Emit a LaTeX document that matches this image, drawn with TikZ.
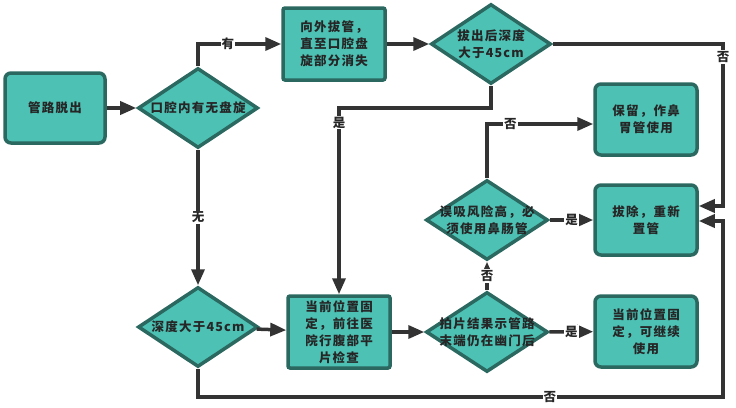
\documentclass[tikz,border=0pt]{standalone}
\usepackage{fontspec}
\setmainfont{Noto Sans CJK SC}[LetterSpace=10]
\usepackage{tikz}
\usetikzlibrary{shapes.geometric,arrows.meta}

\definecolor{tealfill}{HTML}{4CC1B4}
\definecolor{tealline}{HTML}{2A6860}
\definecolor{darkline}{HTML}{333333}

\tikzset{
  box/.style={rectangle, draw=tealline, fill=tealfill, line width=3.5pt, rounded corners=2pt,
    minimum width=102pt, minimum height=72pt, align=center, inner sep=2pt,
    font=\bfseries\fontsize{12.5}{17}\selectfont, text=black!85},
  rbox/.style={box, rounded corners=6pt},
  dec/.style={diamond, draw=tealline, fill=tealfill, line width=3.5pt, aspect=1.5,
    minimum width=120pt, minimum height=80pt, inner sep=0pt},
  dectext/.style={align=center, font=\bfseries\fontsize{12.5}{17}\selectfont, text=black!85},
  arr/.style={draw=darkline, line width=3.5pt, -{Triangle[length=16pt,width=13pt]}},
  lab/.style={fill=white, inner sep=1pt, font=\bfseries\fontsize{12.5}{13}\selectfont, text=black!85}
}

\begin{document}
\begin{tikzpicture}[x=1pt, y=-1pt]
\useasboundingbox (0,0) rectangle (736,407);

\node (out) [rbox, minimum width=100pt, minimum height=70pt] at (55,108) {管路脱出};
\node (d1) [dec, label={[dectext]center:口腔内有无盘旋}] at (198,108) {};
\node (pull) [box] at (334,44) {向外拔管，\\直至口腔盘\\旋部分消失};
\node (d2) [dec, label={[dectext]center:拔出后深度\\大于45cm}] at (491,44) {};
\node (d3) [dec, label={[dectext]center:深度大于45cm}] at (198,327) {};
\node (xray) [box] at (339,332) {当前位置固\\定，前往医\\院行腹部平\\片检查};
\node (d4) [dec, minimum width=122pt, label={[dectext]center:拍片结果示管路\\末端仍在幽门后}] at (487,332) {};
\node (d5) [dec, minimum width=122pt, label={[dectext]center:误吸风险高，必\\须使用鼻肠管}] at (487,220) {};
\node (keep) [rbox, minimum height=71pt] at (646,119.5) {保留，作鼻\\胃管使用};
\node (redo) [rbox, minimum height=70pt] at (646,220) {拔除，重新\\置管};
\node (fix) [rbox, minimum height=71pt] at (646,331.5) {当前位置固\\定，可继续\\使用};

\coordinate (rtop) at (723,206);
\coordinate (rbot) at (723,221);
\coordinate (rbase) at (723,397);

\draw[arr] (out) -- (d1);
\draw[arr] (d1.north) |- node[lab, pos=0.68] {有} (pull.west);
\draw[arr] (pull) -- (d2);
\draw[arr] (d2.east) -| node[lab, pos=0.54] {否} (rtop) -- (rtop -| redo.east);
\draw[arr] (d2.south) -- ++(0,22) -| node[lab, pos=0.54] {是} (xray.north);
\draw[arr] (d1.south) -- node[lab] {无} (d3.north);
\draw[arr] (d3) -- (xray);
\draw[arr] (d3.south) |- node[lab, pos=0.835] {否} (rbase) -- (rbot) -- (rbot -| redo.east);
\draw[arr] (xray) -- (d4);
\draw[arr] (d4) -- node[lab] {是} (fix);
\draw[arr] (d4) -- node[lab] {否} (d5);
\draw[arr] (d5) -- node[lab] {是} (redo);
\draw[arr] (d5.north) |- node[lab, pos=0.61] {否} ([yshift=-4.5pt]keep.west);
\end{tikzpicture}
\end{document}
